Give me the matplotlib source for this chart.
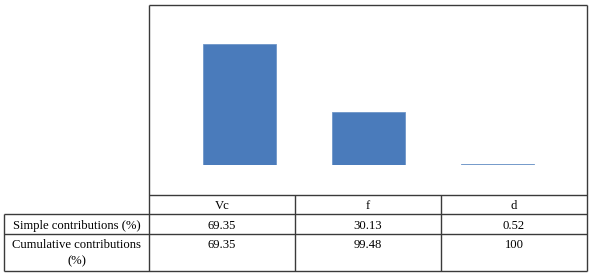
import matplotlib
matplotlib.use("Agg")
import matplotlib.pyplot as plt

# data
factors = ["Vc", "f", "d"]
simple = [69.35, 30.13, 0.52]
cumulative = [69.35, 99.48, 100]
simple_labels = ["69.35", "30.13", "0.52"]
cumulative_labels = ["69.35", "99.48", "100"]

W, H = 589, 274
plt.rcParams["font.family"] = ["Liberation Serif", "DejaVu Serif"]
FS = 9.1
LINE = "#3a3a3a"

fig = plt.figure(figsize=(W / 100, H / 100), dpi=100)

# overlay in pixel coordinates for the table grid and text
ov = fig.add_axes([0, 0, 1, 1])
ov.set_xlim(0, W)
ov.set_ylim(H, 0)
ov.axis("off")

# column / row edges (pixels)
x_left, x_chart, x_right = 4, 149, 587
col_edges = [149, 295, 441, 587]
y_top, y_head, y_simple, y_cum, y_bot = 5, 195, 214, 234, 271

def hline(y, x0, x1):
    ov.plot([x0, x1], [y, y], color=LINE, lw=1.0, solid_capstyle="butt")

def vline(x, y0, y1):
    ov.plot([x, x], [y0, y1], color=LINE, lw=1.0, solid_capstyle="butt")

# chart frame
hline(y_top, x_chart, x_right)
vline(x_chart, y_top, y_bot)
vline(x_right, y_top, y_bot)
hline(y_head, x_chart, x_right)
# table grid
hline(y_simple, x_left, x_right)
hline(y_cum, x_left, x_right)
hline(y_bot, x_left, x_right)
vline(x_left, y_simple, y_bot)
for x in col_edges[1:-1]:
    vline(x, y_head, y_bot)

# header and values
for i, name in enumerate(factors):
    cx = (col_edges[i] + col_edges[i + 1]) / 2
    ov.text(cx, 206, name, ha="center", va="center", fontsize=FS)
    ov.text(cx, 226, simple_labels[i], ha="center", va="center", fontsize=FS)
    ov.text(cx, 245, cumulative_labels[i], ha="center", va="center", fontsize=FS)

lx = (x_left + x_chart) / 2
ov.text(lx, 226, "Simple contributions (%)", ha="center", va="center", fontsize=FS)
ov.text(lx, 245, "Cumulative contributions", ha="center", va="center", fontsize=FS)
ov.text(lx, 261, "(%)", ha="center", va="center", fontsize=FS)

# bar chart area
px_per_unit = 1.745
ymax = 80
ax_x0, ax_x1 = 175, 562
ax_bottom = 165
ax_h = ymax * px_per_unit
ax = fig.add_axes([ax_x0 / W, (H - ax_bottom) / H, (ax_x1 - ax_x0) / W, ax_h / H])
ax.bar(range(len(factors)), simple, width=0.57, color="#4a7bbb", edgecolor="#6f96c8", linewidth=0.6)
ax.set_xlim(-0.5, len(factors) - 0.5)
ax.set_ylim(0, ymax)
ax.axis("off")

fig.savefig("out.png", dpi=100)
